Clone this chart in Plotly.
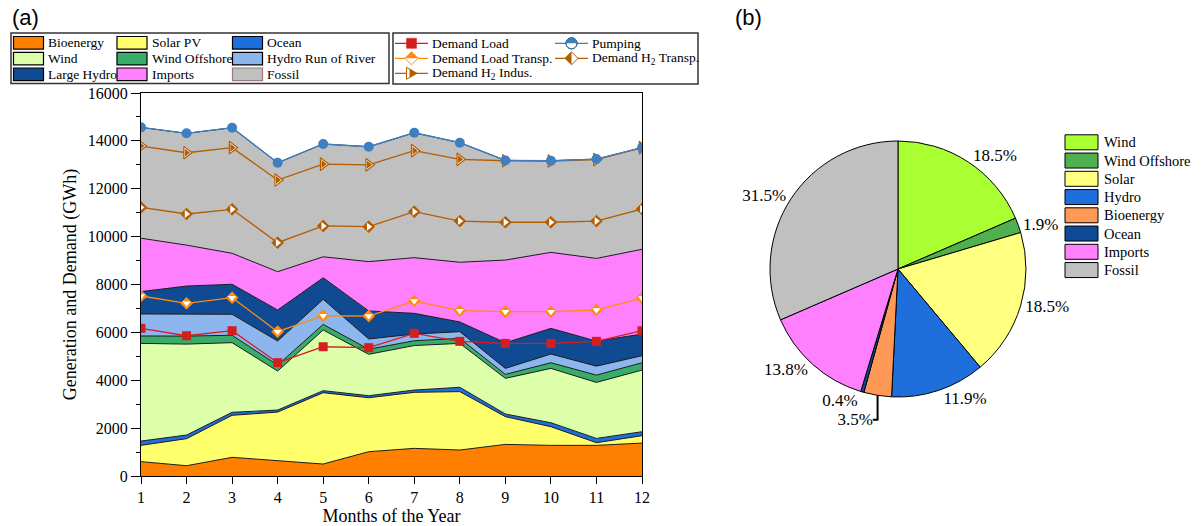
import math
import plotly.graph_objects as go

W, H = 1203, 526

# ---------------- data ----------------
months = [1, 2, 3, 4, 5, 6, 7, 8, 9, 10, 11, 12]

gen_names = ["Bioenergy", "Solar PV", "Ocean", "Wind", "Wind Offshore",
             "Hydro Run of River", "Large Hydro", "Imports", "Fossil"]
gen_colors = ["#FF8000", "#FFFF6B", "#1C6FDC", "#DDFFAA", "#38AD6A",
              "#8DB6EE", "#104A92", "#FF80FF", "#C0C0C0"]

bioenergy = [600, 430, 780, 640, 500, 1015, 1155, 1085, 1320, 1280, 1280, 1375]
solar_pv = [680, 1130, 1755, 2030, 2980, 2255, 2340, 2440, 1160, 780, 110, 310]
ocean = [180, 150, 125, 85, 85, 85, 95, 180, 110, 165, 180, 165]
wind = [4080, 3800, 2910, 1630, 2535, 1730, 1860, 1835, 1490, 2270, 2340, 2575]
wind_offshore = [310, 335, 310, 250, 235, 210, 200, 210, 165, 235, 305, 305]
hydro_ror = [920, 920, 875, 1005, 1045, 430, 280, 280, 250, 365, 375, 295]
large_hydro = [933, 1170, 1254, 1295, 903, 1170, 865, 405, 1071, 1073, 1044, 905]
imports = [2230, 1710, 1295, 1600, 875, 2060, 2325, 2495, 3455, 3175, 3455, 3540]
fossil = [4632, 4670, 5246, 4550, 4712, 4800, 5220, 4995, 4164, 3827, 4151, 4245]
gen_values = [bioenergy, solar_pv, ocean, wind, wind_offshore,
              hydro_ror, large_hydro, imports, fossil]

demand_load = [6170, 5860, 6070, 4735, 5400, 5360, 5960, 5625, 5540, 5540, 5625, 6070]
pumping = [14565, 14315, 14550, 13085, 13870, 13755, 14340, 13925, 13185, 13170, 13240, 13715]
demand_load_transp = [7520, 7215, 7450, 6030, 6695, 6680, 7310, 6905, 6865, 6865, 6935, 7435]
demand_h2_transp = [11220, 10945, 11140, 9745, 10445, 10415, 11040, 10650, 10600, 10600, 10650, 11155]
demand_h2_indus = [13785, 13505, 13715, 12365, 13030, 13000, 13590, 13230, 13170, 13160, 13220, 13715]

pie_labels = ["Wind", "Wind Offshore", "Solar", "Hydro", "Bioenergy", "Ocean", "Imports", "Fossil"]
pie_values = [18.5, 1.9, 18.5, 11.9, 3.5, 0.4, 13.8, 31.5]
pie_colors = ["#AAFF33", "#50B050", "#FFFF80", "#1E6FDC", "#FF9955", "#0F4A96", "#FF80FF", "#C0C0C0"]

SERIF = "Liberation Serif, Times New Roman, Times, serif"
SANS = "Liberation Sans, Arial, sans-serif"

def px(x):
    return x / W

def py(y):
    return 1 - y / H

fig = go.Figure()

# ---------------- stacked areas ----------------
for name, vals, col in zip(gen_names, gen_values, gen_colors):
    fig.add_trace(go.Scatter(
        x=months, y=vals, name=name, mode="lines", stackgroup="gen",
        line=dict(color="#1a1a1a", width=1), fillcolor=col,
        showlegend=False, xaxis="x", yaxis="y"))

# ---------------- demand lines ----------------
RED, ORANGE, BROWN, BLUE = "#D41F1F", "#FF8C10", "#B35C00", "#3F7EC0"

line_series = [
    # name, values, color, legend column, legend row, glyph kind
    ("Demand Load", demand_load, RED, 0, 0, "square"),
    ("Pumping", pumping, BLUE, 1, 0, "circle"),
    ("Demand Load Transp.", demand_load_transp, ORANGE, 0, 1, "diamond_top"),
    ("Demand H<sub>2</sub> Transp.", demand_h2_transp, BROWN, 1, 1, "diamond_left"),
    ("Demand H<sub>2</sub> Indus.", demand_h2_indus, BROWN, 0, 2, "triangle"),
]

chart_markers = {
    "square": [dict(symbol="square", size=9, line_w=0, fill=None)],
    "circle": [dict(symbol="circle", size=10, line_w=0, fill=None)],
    "diamond_top": [dict(symbol="diamond", size=9, line_w=1, fill=None),
                    dict(symbol="triangle-down", size=7, line_w=0, fill="white")],
    "diamond_left": [dict(symbol="diamond", size=9, line_w=1, fill=None),
                     dict(symbol="triangle-right", size=7, line_w=0, fill="white")],
    "triangle": [dict(symbol="triangle-right", size=11, line_w=1.2, fill="white"),
                 dict(symbol="triangle-right", size=7, line_w=0, fill=None)],
}

draw_order = [0, 2, 3, 4, 1]
for idx in draw_order:
    name, vals, col, _, _, kind = line_series[idx]
    fig.add_trace(go.Scatter(
        x=months, y=vals, name=name, mode="lines",
        line=dict(color=col, width=1.3), showlegend=False,
        hoverinfo="skip"))
    for m in chart_markers[kind]:
        fill = m["fill"] if m["fill"] else col
        fig.add_trace(go.Scatter(
            x=months, y=vals, name=name, mode="markers", showlegend=False,
            marker=dict(symbol=m["symbol"], size=m["size"], color=fill,
                        line=dict(color=col, width=m["line_w"]))))

# ---------------- pie ----------------
fig.add_trace(go.Pie(
    labels=pie_labels, values=pie_values, sort=False, direction="clockwise",
    rotation=0, marker=dict(colors=pie_colors, line=dict(color="black", width=1)),
    textposition="outside", texttemplate="%{value:.1f}%",
    textfont=dict(family=SERIF, size=17, color="black"),
    domain=dict(x=[px(770), px(1026)], y=[py(397), py(141)]),
    showlegend=False))

shapes = []
annotations = []

def rect(x0, y0, x1, y1, fill, line="black", lw=1):
    shapes.append(dict(type="rect", xref="paper", yref="paper",
                       x0=px(x0), x1=px(x1), y0=py(y1), y1=py(y0),
                       fillcolor=fill, line=dict(color=line, width=lw), layer="above"))

def poly(pts, fill, line="rgba(0,0,0,0)", lw=0):
    d = "M " + " L ".join(f"{px(a):.5f},{py(b):.5f}" for a, b in pts) + " Z"
    shapes.append(dict(type="path", xref="paper", yref="paper", path=d,
                       fillcolor=fill, line=dict(color=line, width=lw), layer="above"))

def hline(x0, x1, y, col, lw=1.3):
    shapes.append(dict(type="line", xref="paper", yref="paper",
                       x0=px(x0), x1=px(x1), y0=py(y), y1=py(y),
                       line=dict(color=col, width=lw), layer="above"))

def text(x, y, s, size, family=SERIF, xanchor="left"):
    annotations.append(dict(x=px(x), y=py(y), xref="paper", yref="paper",
                            text=s, showarrow=False, xanchor=xanchor, yanchor="middle",
                            font=dict(family=family, size=size, color="black")))

# ---------------- area legend (a) ----------------
rect(11, 33, 389, 83.5, "white", "#333333", 1.5)
col_x = [13.5, 117, 232.5]
row_y = [42.8, 58.6, 74.3]
for i, (name, col) in enumerate(zip(gen_names, gen_colors)):
    r, c = divmod(i, 3)
    x0 = col_x[c]
    y = row_y[r]
    border = "#9a7a7a" if name == "Fossil" else "black"
    rect(x0, y - 6.3, x0 + 30, y + 6.3, col, border, 1.2)
    text(x0 + 32.5, y, name, 13.5)

# ---------------- line legend ----------------
rect(393, 33, 698, 84, "white", "#333333", 1.5)
lcol_x = [395, 555]
lrow_y = [43.3, 58.3, 73.3]
for name, vals, col, c, r, kind in line_series:
    x0 = lcol_x[c]
    y = lrow_y[r]
    hline(x0, x0 + 33, y, col)
    cx = x0 + 16.5
    if kind == "square":
        rect(cx - 5, y - 5, cx + 5, y + 5, col, col, 0.5)
    elif kind == "circle":
        rr = 5.5
        full = [(cx + rr * math.cos(t * math.pi / 18), y + rr * math.sin(t * math.pi / 18)) for t in range(36)]
        top = [(cx + rr * math.cos(math.pi + t * math.pi / 18), y + rr * math.sin(math.pi + t * math.pi / 18)) for t in range(19)]
        poly(full, "white", "#2d5f96", 1)
        poly(top, col)
        poly(full, "rgba(0,0,0,0)", "#2d5f96", 1)
    elif kind == "diamond_top":
        hd = 6.5
        poly([(cx - hd, y), (cx, y - hd), (cx + hd, y), (cx, y + hd)], "white", col, 1)
        poly([(cx - hd, y), (cx, y - hd), (cx + hd, y)], col)
    elif kind == "diamond_left":
        hd = 6.5
        poly([(cx - hd, y), (cx, y - hd), (cx + hd, y), (cx, y + hd)], "white", col, 1)
        poly([(cx, y - hd), (cx - hd, y), (cx, y + hd)], col)
    elif kind == "triangle":
        poly([(cx - 5, y - 6), (cx + 5.5, y), (cx - 5, y + 6)], "white", col, 1)
        poly([(cx - 2, y - 4.3), (cx + 5.5, y), (cx - 2, y + 4.3)], col)
    text(x0 + 35, y, name, 13.5)

# ---------------- pie legend ----------------
for i, (name, col) in enumerate(zip(pie_labels, pie_colors)):
    y = 142.3 + 18.25 * i
    rect(1065, y - 7.5, 1098, y + 7.5, col, "black", 1)
    text(1101.5, y, name, 14.5)

# panel labels
text(25, 17, "(a)", 22, SANS, "center")
text(748, 17, "(b)", 22, SANS, "center")

axis_common = dict(showline=True, linecolor="black", linewidth=1.3, mirror=True,
                   showgrid=False, zeroline=False, ticks="outside", tickcolor="black",
                   tickwidth=1.2, tickfont=dict(family=SERIF, size=16, color="black"))

fig.update_layout(
    width=W, height=H, margin=dict(l=0, r=0, t=0, b=0),
    paper_bgcolor="white", plot_bgcolor="white",
    showlegend=False,
    xaxis=dict(domain=[px(141), px(642)], range=[1, 12], tickvals=months,
               ticklen=7, automargin=False,
               title=dict(text="Months of the Year", standoff=4,
                          font=dict(family=SERIF, size=18, color="black")),
               **axis_common),
    yaxis=dict(domain=[py(476), py(93)], range=[0, 16000], dtick=2000,
               tickformat="d", ticklen=9, automargin=False,
               minor=dict(dtick=1000, ticks="outside", ticklen=4, tickcolor="black", tickwidth=1.2),
               title=dict(text="Generation and Demand (GWh)", standoff=6,
                          font=dict(family=SERIF, size=18, color="black")),
               **axis_common),
    shapes=shapes, annotations=annotations,
)

fig.write_html("out.html", config={"displayModeBar": False},
               post_script="document.body.style.margin='0';document.body.style.overflow='hidden';")
